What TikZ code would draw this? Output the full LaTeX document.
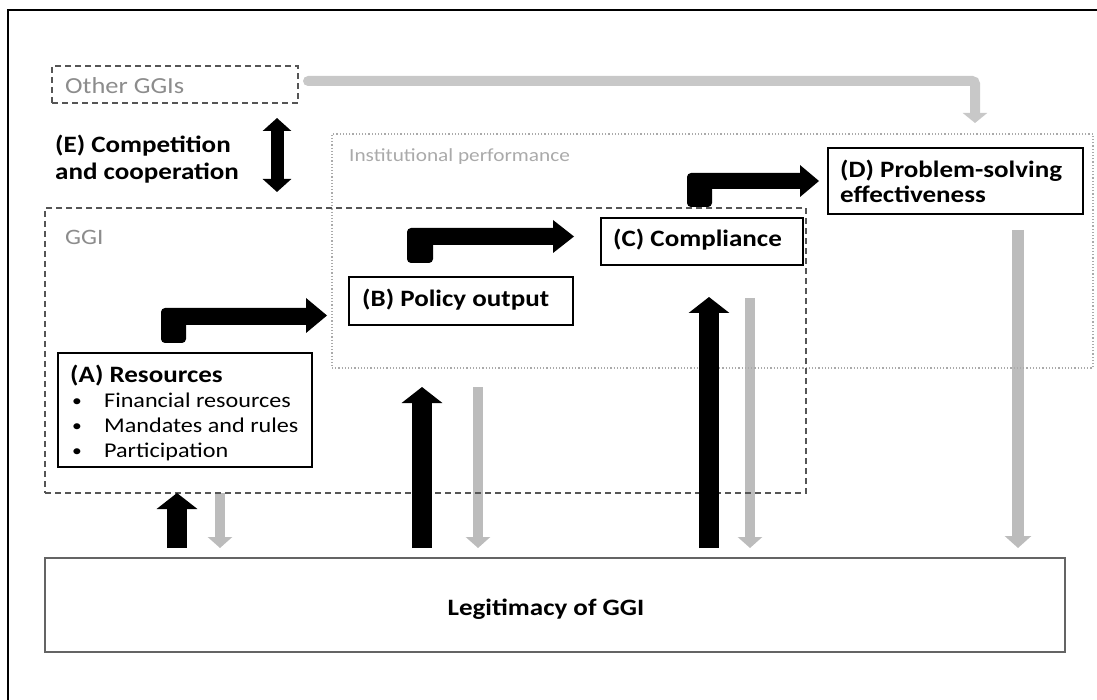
\documentclass[tikz,border=0pt]{standalone}
\usepackage{fontspec}
\setmainfont{Carlito}[FakeStretch=1.15]
\usetikzlibrary{arrows.meta}
\definecolor{txtgray}{RGB}{140,140,140}
\definecolor{ipgray}{RGB}{170,170,170}
\definecolor{agray}{RGB}{188,188,188}
\definecolor{tgray}{RGB}{200,200,200}
\definecolor{dgray}{RGB}{85,85,85}
\definecolor{lgbord}{RGB}{100,100,100}
\newcommand\bsz{\fontsize{23.5}{28}\selectfont\bfseries}
\newcommand\rsz{\fontsize{21}{25}\selectfont}
\tikzset{
  lbl/.style={anchor=base west, inner sep=0pt},
  boxnode/.style={draw=black, line width=2pt, fill=white, inner sep=0pt},
  dashbox/.style={draw=dgray, line width=1.2pt, dash pattern=on 6pt off 4pt},
  dotbox/.style={draw=ipgray, line width=1.2pt, dash pattern=on 1.2pt off 2pt},
  grayarrow/.style={agray, line width=10pt, -{Triangle[width=24pt,length=11pt]}},
  blackarrow/.style={black, line width=20pt, -{Triangle[width=40pt,length=16pt]}},
}
\begin{document}
\begin{tikzpicture}[x=1pt,y=-1pt]
\useasboundingbox (0,0) rectangle (1097,700);
% outer frame (left and top edges visible)
\draw[line width=1.5pt] (8,700) -- (8,10) -- (1097,10);

% gray downward arrows (drawn first, dashed lines on top)
\coordinate (gAt) at (220,493); \coordinate (gAb) at (220,548);
\coordinate (gBt) at (478,387); \coordinate (gBb) at (478,548);
\coordinate (gCt) at (750,298); \coordinate (gCb) at (750,548);
\coordinate (gDt) at (1018,230); \coordinate (gDb) at (1018,548);
\draw[grayarrow] (gAt) -- (gAb);
\draw[grayarrow] (gBt) -- (gBb);
\draw[grayarrow] (gCt) -- (gCb);
\draw[grayarrow, line width=12pt, -{Triangle[width=26pt,length=12pt]}] (gDt) -- (gDb);

% container boxes
\node[dashbox, minimum width=246pt, minimum height=37pt, inner sep=0pt] (other) at (175,84.5) {};
\node[lbl, text=txtgray] (otherlbl) at (65,94) {\fontsize{23}{27}\selectfont Other GGIs};
\node[dotbox, minimum width=761pt, minimum height=234pt, inner sep=0pt] (inst) at (712.5,251) {};
\node[lbl, text=ipgray] (instlbl) at (349,162) {\fontsize{18.5}{22}\selectfont Institutional performance};
\node[dashbox, minimum width=761pt, minimum height=285pt, inner sep=0pt] (ggi) at (425.5,350.5) {};
\node[lbl, text=txtgray] (ggilbl) at (65,245) {\fontsize{22}{26}\selectfont GGI};

% top gray connector from Other GGIs to (D)
\coordinate (oS) at (308,81);
\coordinate (oC) at (975,81);
\coordinate (oE) at (975,123);
\draw[tgray, line width=10pt, line cap=round, rounded corners=3pt,
      -{Triangle[width=24pt,length=10pt]}] (oS) -- (oC) -- (oE);

% (E) double arrow
\coordinate (eT) at (277,118); \coordinate (eB) at (277,192);
\draw[black, line width=13pt, {Triangle[width=28pt,length=13pt]}-{Triangle[width=28pt,length=13pt]}] (eT) -- (eB);
\node[lbl] (E1) at (55,153) {\bsz (E) Competition};
\node[lbl] (E2) at (55,180) {\bsz and cooperation};

% main boxes
\node[boxnode, minimum width=254pt, minimum height=114pt] (A) at (185,410) {};
\node[lbl] (Atitle) at (70,382) {\bsz (A) Resources};
\node[lbl] (Ab1) at (72,406) {\fontsize{17}{20}\selectfont •};
\node[lbl] (Ai1) at (104,407) {\rsz Financial resources};
\node[lbl] (Ab2) at (72,431) {\fontsize{17}{20}\selectfont •};
\node[lbl] (Ai2) at (104,432) {\rsz Mandates and rules};
\node[lbl] (Ab3) at (72,456) {\fontsize{17}{20}\selectfont •};
\node[lbl] (Ai3) at (104,457) {\rsz Participation};

\node[boxnode, minimum width=224pt, minimum height=48pt] (B) at (461,301) {};
\node[lbl] (Btxt) at (362,307) {\bsz (B) Policy output};

\node[boxnode, minimum width=202pt, minimum height=47pt] (C) at (702,241.5) {};
\node[lbl] (Ctxt) at (613,247) {\bsz (C) Compliance};

\node[boxnode, minimum width=255pt, minimum height=66pt] (D) at (955.5,181) {};
\node[lbl] (D1) at (840,178) {\bsz (D) Problem-solving};
\node[lbl] (D2) at (840,203) {\bsz effectiveness};

\node[draw=lgbord, line width=1.5pt, fill=white, minimum width=1020pt, minimum height=94pt, inner sep=0pt] (L) at (555,605) {};
\node[anchor=base, inner sep=0pt] (Ltxt) at (546,615) {\bsz Legitimacy of GGI};

% bent block arrows
\fill[black] [rounded corners=4pt] (186,325) -- (186,343) -- (161,343) -- (161,308) [sharp corners] -- (306,308) -- (306,298) -- (327,315.5) -- (306,333) -- (306,325) -- cycle;
\fill[black] [rounded corners=4pt] (433,245) -- (433,263) -- (407,263) -- (407,228) [sharp corners] -- (553,228) -- (553,220) -- (574,236.5) -- (553,253) -- (553,245) -- cycle;
\fill[black] [rounded corners=4pt] (712,189) -- (712,207) -- (687,207) -- (687,173) [sharp corners] -- (800,173) -- (800,165) -- (819,181) -- (800,197) -- (800,189) -- cycle;

% black upward arrows
\coordinate (bAb) at (177,548); \coordinate (bAt) at (177,493);
\coordinate (bBb) at (422,548); \coordinate (bBt) at (422,387);
\coordinate (bCb) at (709,548); \coordinate (bCt) at (709,297);
\draw[blackarrow] (bAb) -- (bAt);
\draw[blackarrow] (bBb) -- (bBt);
\draw[blackarrow] (bCb) -- (bCt);
\end{tikzpicture}
\end{document}
